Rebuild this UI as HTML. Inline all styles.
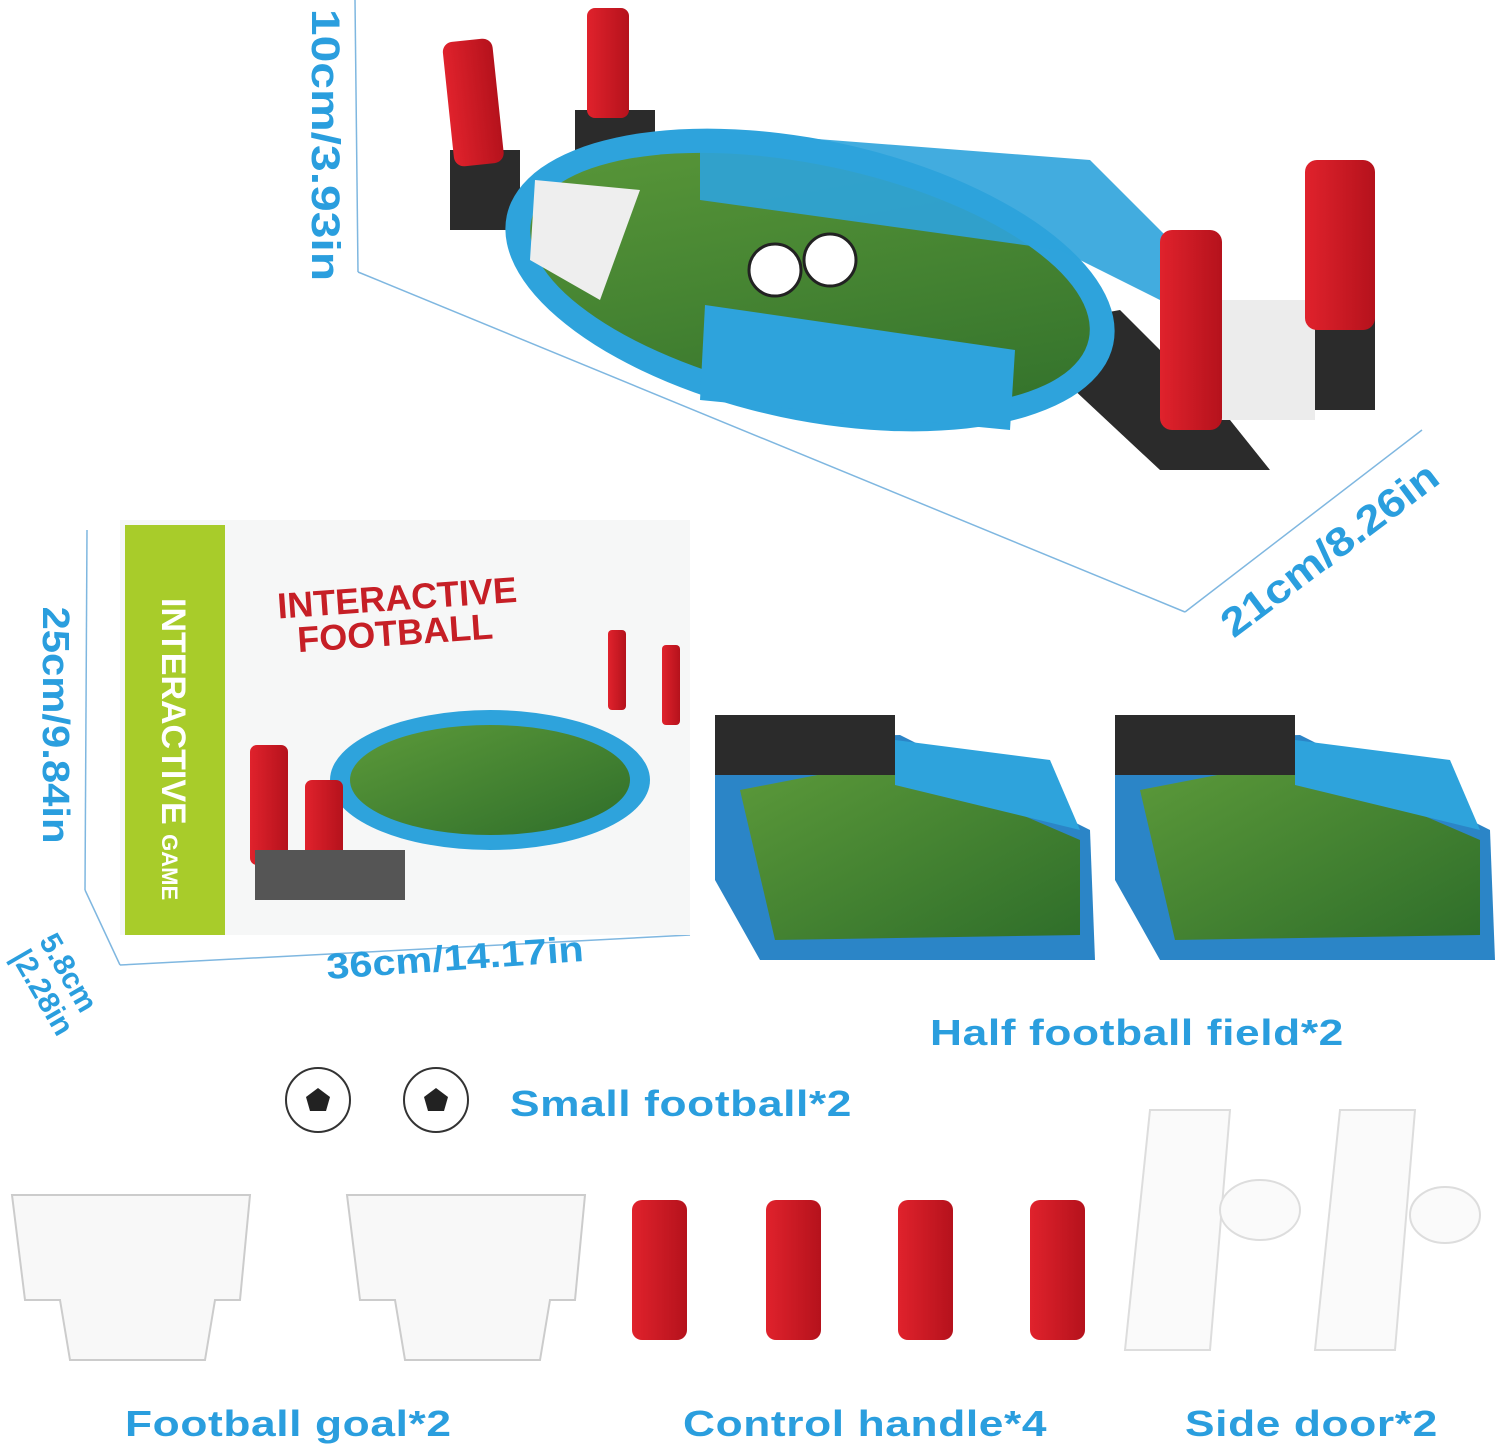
<!DOCTYPE html>
<html><head><meta charset="utf-8"><style>
body{margin:0;width:1500px;height:1454px;background:#fff;position:relative;overflow:hidden;font-family:"Liberation Sans",sans-serif}
.t{position:absolute;color:#2a9ede;font-weight:bold;font-size:36px;white-space:nowrap;letter-spacing:0.5px;transform-origin:0 50%;transform:scaleX(1.23)}
.v{position:absolute;color:#2a9ede;font-weight:bold;white-space:nowrap;text-align:center;transform-origin:50% 50%}
svg{position:absolute;left:0;top:0}
</style></head><body>
<svg width="1500" height="1454" viewBox="0 0 1500 1454">
<defs>
<linearGradient id="g" x1="0" y1="0" x2="1" y2="1"><stop offset="0" stop-color="#5c9a3a"/><stop offset="1" stop-color="#2f6e2a"/></linearGradient>
<linearGradient id="r" x1="0" x2="1"><stop offset="0" stop-color="#e0222c"/><stop offset="1" stop-color="#b5121c"/></linearGradient>
</defs>
<g stroke="#7fb7e0" stroke-width="1.5" fill="none">
<line x1="355" y1="0" x2="358" y2="272"/>
<line x1="358" y1="272" x2="1185" y2="612"/>
<line x1="1185" y1="612" x2="1422" y2="430"/>
<line x1="87" y1="530" x2="85" y2="890"/>
<line x1="85" y1="890" x2="120" y2="965"/>
<line x1="120" y1="965" x2="690" y2="935"/>
</g>
<rect x="450" y="150" width="70" height="80" fill="#2b2b2b"/>
<rect x="575" y="110" width="80" height="80" fill="#2b2b2b"/>
<path d="M1010 330 L1120 310 L1230 420 L1270 470 L1160 470 Z" fill="#2b2b2b"/>
<rect x="1295" y="300" width="80" height="110" fill="#2b2b2b"/>
<ellipse cx="810" cy="280" rx="310" ry="140" transform="rotate(12 810 280)" fill="#2ea3dc"/>
<ellipse cx="810" cy="280" rx="285" ry="115" transform="rotate(12 810 280)" fill="url(#g)"/>
<path d="M700 130 L1090 160 L1180 250 L1160 300 L1060 250 L700 200Z" fill="#2ea3dc" opacity=".9"/>
<path d="M705 305 L1015 350 L1010 430 L700 400Z" fill="#2ea3dc"/>
<path d="M535 180 L640 190 L600 300 L530 260Z" fill="#eee"/>
<rect x="1220" y="300" width="95" height="120" fill="#ececec"/>
<circle cx="775" cy="270" r="26" fill="#fff" stroke="#222" stroke-width="3"/>
<circle cx="830" cy="260" r="26" fill="#fff" stroke="#222" stroke-width="3"/>
<rect x="448" y="40" width="50" height="125" rx="10" fill="url(#r)" transform="rotate(-6 473 100)"/>
<rect x="587" y="8" width="42" height="110" rx="8" fill="url(#r)"/>
<rect x="1160" y="230" width="62" height="200" rx="12" fill="url(#r)"/>
<rect x="1305" y="160" width="70" height="170" rx="12" fill="url(#r)"/>
<rect x="120" y="520" width="570" height="415" fill="#f6f7f7"/>
<rect x="125" y="525" width="100" height="410" fill="#a8cc2a"/>
<ellipse cx="490" cy="780" rx="160" ry="70" fill="#2ea3dc"/>
<ellipse cx="490" cy="780" rx="140" ry="55" fill="url(#g)"/>
<rect x="250" y="745" width="38" height="120" rx="7" fill="url(#r)"/>
<rect x="305" y="780" width="38" height="100" rx="7" fill="url(#r)"/>
<rect x="608" y="630" width="18" height="80" rx="4" fill="url(#r)"/>
<rect x="662" y="645" width="18" height="80" rx="4" fill="url(#r)"/>
<rect x="255" y="850" width="150" height="50" fill="#555"/>
<text x="278" y="610" font-family="Liberation Sans" font-weight="bold" font-size="36" fill="#c61f26" transform="rotate(-4 400 610)">INTERACTIVE</text>
<text x="298" y="645" font-family="Liberation Sans" font-weight="bold" font-size="36" fill="#c61f26" transform="rotate(-4 400 645)">FOOTBALL</text>
<text x="162" y="598" font-family="Liberation Sans" font-weight="bold" font-size="34" fill="#fff" transform="rotate(90 162 598)">INTERACTIVE <tspan font-size="22">GAME</tspan></text>
<g>
<path d="M715 740 L900 735 L1090 830 L1095 960 L760 960 L715 880Z" fill="#2b85c7"/>
<path d="M740 790 L895 760 L1080 840 L1080 935 L775 940 Z" fill="url(#g)"/>
<path d="M895 740 L1050 760 L1080 830 L895 785Z" fill="#2ea3dc"/>
<rect x="715" y="715" width="180" height="60" fill="#2b2b2b"/>
</g>
<g transform="translate(400 0)">
<path d="M715 740 L900 735 L1090 830 L1095 960 L760 960 L715 880Z" fill="#2b85c7"/>
<path d="M740 790 L895 760 L1080 840 L1080 935 L775 940 Z" fill="url(#g)"/>
<path d="M895 740 L1050 760 L1080 830 L895 785Z" fill="#2ea3dc"/>
<rect x="715" y="715" width="180" height="60" fill="#2b2b2b"/>
</g>
<circle cx="318" cy="1100" r="32" fill="#fff" stroke="#333" stroke-width="2"/>
<polygon points="318,1088 330,1097 326,1111 310,1111 306,1097" fill="#222"/>
<circle cx="436" cy="1100" r="32" fill="#fff" stroke="#333" stroke-width="2"/>
<polygon points="436,1088 448,1097 444,1111 428,1111 424,1097" fill="#222"/>
<g fill="#f8f8f8" stroke="#ccc" stroke-width="2">
<path d="M12 1195 L250 1195 L240 1300 L215 1300 L205 1360 L70 1360 L60 1300 L25 1300Z"/>
<path d="M347 1195 L585 1195 L575 1300 L550 1300 L540 1360 L405 1360 L395 1300 L360 1300Z"/>
</g>
<g fill="url(#r)">
<rect x="632" y="1200" width="55" height="140" rx="10"/>
<rect x="766" y="1200" width="55" height="140" rx="10"/>
<rect x="898" y="1200" width="55" height="140" rx="10"/>
<rect x="1030" y="1200" width="55" height="140" rx="10"/>
</g>
<g fill="#fafafa" stroke="#ddd" stroke-width="2">
<path d="M1150 1110 L1230 1110 L1210 1350 L1125 1350Z"/>
<path d="M1340 1110 L1415 1110 L1395 1350 L1315 1350Z"/>
<ellipse cx="1260" cy="1210" rx="40" ry="30"/>
<ellipse cx="1445" cy="1215" rx="35" ry="28"/>
</g>
</svg>
<div class="v" style="left:185px;top:123px;width:280px;height:44px;font-size:40px;line-height:44px;transform:rotate(90deg) scaleX(1.2)">10cm/3.93in</div>
<div class="v" style="left:1190px;top:528px;width:280px;height:44px;font-size:40px;line-height:44px;transform:rotate(-37deg) scaleX(1.15)">21cm/8.26in</div>
<div class="v" style="left:-75px;top:705px;width:260px;height:40px;font-size:38px;line-height:40px;transform:rotate(90deg) scaleX(1.1)">25cm/9.84in</div>
<div class="v" style="left:325px;top:938px;width:260px;height:40px;font-size:36px;line-height:40px;transform:rotate(-4deg) scaleX(1.15)">36cm/14.17in</div>
<div class="v" style="left:5px;top:960px;width:110px;font-size:30px;line-height:32px;transform:rotate(60deg);text-align:left">5.8cm<br>|2.28in</div>
<div class="t" style="left:930px;top:1012px">Half football field*2</div>
<div class="t" style="left:510px;top:1083px">Small football*2</div>
<div class="t" style="left:125px;top:1403px">Football goal*2</div>
<div class="t" style="left:683px;top:1403px">Control handle*4</div>
<div class="t" style="left:1185px;top:1403px">Side door*2</div>
</body></html>
